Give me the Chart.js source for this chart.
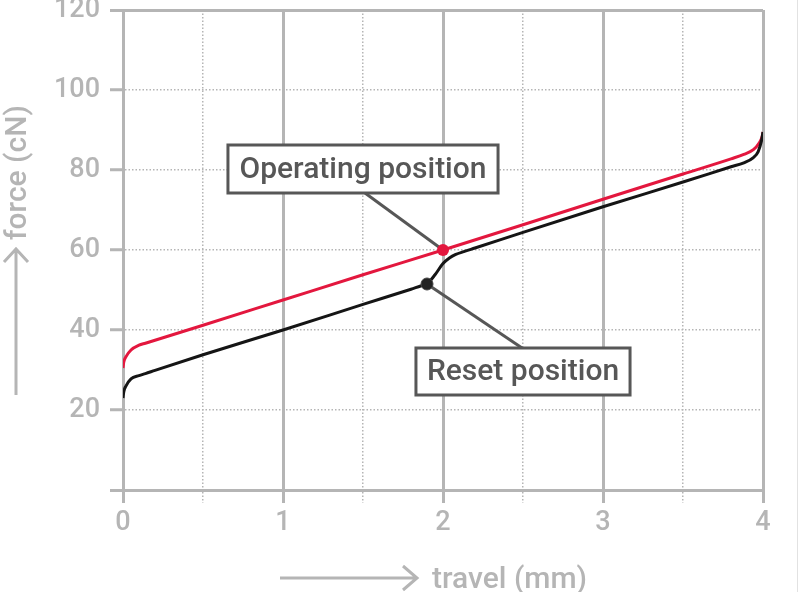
<!DOCTYPE html>
<html>
<head>
<meta charset="utf-8">
<script src="https://cdn.jsdelivr.net/npm/chart.js@4.4.1/dist/chart.umd.min.js"></script>
<style>
  html, body { margin: 0; padding: 0; background: #fff; }
  #wrap { width: 800px; height: 592px; position: relative; }
</style>
</head>
<body>
<div id="wrap"><canvas id="grafico"></canvas></div>
<script>
// travel (mm) / force (cN)
const travelOperating = [0, 0.005, 0.02, 0.05, 0.1, 0.14, 0.2, 0.5, 1.0, 1.5, 2.0, 2.5, 3.0, 3.5, 3.8, 3.88, 3.94, 3.975, 3.995, 4.0];
const forceOperating  = [30.5, 32.0, 33.4, 35.0, 36.2, 36.7, 37.45, 41.2, 47.5, 53.8, 60.0, 66.3, 72.7, 79.0, 82.8, 83.9, 85.1, 86.7, 88.4, 89.5];

const travelReset = [0, 0.005, 0.02, 0.05, 0.1, 0.14, 0.2, 0.5, 1.0, 1.5, 1.8, 1.86, 1.9, 1.95, 2.0, 2.04, 2.08, 2.13, 2.2, 2.5, 3.0, 3.5, 3.8, 3.88, 3.94, 3.97, 3.99, 4.0];
const forceReset  = [23.0, 24.6, 26.1, 27.8, 28.6, 29.1, 29.9, 33.8, 40.0, 46.4, 50.2, 51.0, 51.5, 53.8, 56.6, 58.0, 58.9, 59.6, 60.5, 64.4, 70.8, 77.0, 80.8, 81.8, 83.1, 84.6, 87.2, 89.5];

const operatingPoint = [2.0, 60.0];
const resetPoint = [1.9, 51.5];

const yTicks = [0, 20, 40, 60, 80, 100, 120];
const xTicks = [0, 1, 2, 3, 4];

// callouts: box corners in data units (left, top, right, bottom) + where the leader starts
const callouts = [
    { text: 'Operating position', box: [0.656, 86.25, 2.344, 74.25], from: [1.5125, 74.25], to: operatingPoint },
    { text: 'Reset position', box: [1.831, 35.5, 3.169, 23.75], from: [2.494, 35.5], to: resetPoint }
];

const gris = '#b5b5b5';
const rojo = '#e3173e';
const negro = '#151515';
const oscuro = '#575757';
const fuente = 'Roboto, "Liberation Sans", sans-serif';

const toXY = (xs, ys) => xs.map((x, i) => ({ x: x, y: ys[i] }));

// titles with arrows + callout boxes
const extras = {
    id: 'extras',
    beforeDatasetsDraw(chart) {
        const ctx = chart.ctx, sx = chart.scales.x, sy = chart.scales.y;
        ctx.save();
        ctx.strokeStyle = oscuro;
        ctx.lineWidth = 3;
        callouts.forEach(c => {
            ctx.beginPath();
            ctx.moveTo(sx.getPixelForValue(c.from[0]), sy.getPixelForValue(c.from[1]));
            ctx.lineTo(sx.getPixelForValue(c.to[0]), sy.getPixelForValue(c.to[1]));
            ctx.stroke();
        });
        ctx.restore();
    },
    afterDraw(chart) {
        const ctx = chart.ctx, sx = chart.scales.x, sy = chart.scales.y;
        ctx.save();
        // callout boxes
        callouts.forEach(c => {
            const l = sx.getPixelForValue(c.box[0]), t = sy.getPixelForValue(c.box[1]);
            const r = sx.getPixelForValue(c.box[2]), b = sy.getPixelForValue(c.box[3]);
            ctx.fillStyle = '#fff';
            ctx.fillRect(l, t, r - l, b - t);
            ctx.strokeStyle = oscuro;
            ctx.lineWidth = 3;
            ctx.strokeRect(l, t, r - l, b - t);
            ctx.fillStyle = oscuro;
            ctx.font = '500 30px ' + fuente;
            ctx.textAlign = 'center';
            ctx.textBaseline = 'middle';
            ctx.fillText(c.text, (l + r) / 2, (t + b) / 2 + 1);
        });

        // axis titles with arrows
        ctx.strokeStyle = gris;
        ctx.fillStyle = gris;
        ctx.lineWidth = 3;
        ctx.font = '500 30px ' + fuente;

        // x
        ctx.beginPath();
        ctx.moveTo(280, 578); ctx.lineTo(417, 578);
        ctx.moveTo(403, 566); ctx.lineTo(417, 578); ctx.lineTo(403, 590);
        ctx.stroke();
        ctx.textAlign = 'left';
        ctx.textBaseline = 'alphabetic';
        ctx.fillText('travel (mm)', 432, 588);

        // y
        ctx.beginPath();
        ctx.moveTo(16, 395); ctx.lineTo(16, 249);
        ctx.moveTo(4, 262); ctx.lineTo(16, 249); ctx.lineTo(28, 262);
        ctx.stroke();
        ctx.translate(26, 240);
        ctx.rotate(-Math.PI / 2);
        ctx.fillText('force (cN)', 0, 0);
        ctx.restore();

        // thin frame line on the right
        ctx.save();
        ctx.strokeStyle = '#e2e2e2';
        ctx.lineWidth = 1;
        ctx.beginPath();
        ctx.moveTo(797.5, 0); ctx.lineTo(797.5, 592);
        ctx.stroke();
        ctx.restore();
    }
};

const esSolido = (ctx, valores) => !ctx.tick || valores.includes(ctx.tick.value);
const dash = (ctx, valores) => esSolido(ctx, valores) ? [] : [1.5, 2];
const ancho = (ctx, valores) => esSolido(ctx, valores) ? 3 : 1.5;

new Chart(document.getElementById('grafico').getContext('2d'), {
    type: 'line',
    data: {
        datasets: [
            {
                data: toXY(travelReset, forceReset),
                borderColor: negro, borderWidth: 3,
                pointRadius: 0, cubicInterpolationMode: 'monotone', order: 1
            },
            {
                data: toXY(travelOperating, forceOperating),
                borderColor: rojo, borderWidth: 3,
                pointRadius: 0, cubicInterpolationMode: 'monotone', order: 2
            },
            {
                data: [{ x: operatingPoint[0], y: operatingPoint[1] }],
                showLine: false, pointRadius: 6, pointBackgroundColor: rojo,
                pointBorderColor: rojo, pointBorderWidth: 0, order: 0
            },
            {
                data: [{ x: resetPoint[0], y: resetPoint[1] }],
                showLine: false, pointRadius: 6, pointBackgroundColor: '#222',
                pointBorderColor: '#444', pointBorderWidth: 1, order: 0
            }
        ]
    },
    options: {
        responsive: true,
        maintainAspectRatio: false,
        animation: false,
        events: [],
        layout: { padding: { top: 10, right: 37, left: 0, bottom: 0 } },
        plugins: { legend: { display: false }, tooltip: { enabled: false }, title: { display: false } },
        scales: {
            x: {
                type: 'linear', min: 0, max: 4,
                afterFit(scale) { scale.height = 102; scale.paddingLeft = 0; scale.paddingRight = 0; },
                afterBuildTicks(scale) {
                    const t = [];
                    for (let v = 0; v <= 4; v += 0.5) t.push({ value: v });
                    scale.ticks = t;
                },
                ticks: {
                    autoSkip: false, maxRotation: 0, padding: 4, color: gris,
                    font: { family: fuente, size: 27, weight: '500' },
                    callback: v => xTicks.includes(v) ? String(v) : ''
                },
                grid: {
                    color: gris, tickColor: gris, tickLength: 13,
                    lineWidth: ctx => ancho(ctx, xTicks),
                    tickWidth: ctx => ancho(ctx, xTicks),
                    tickBorderDash: ctx => dash(ctx, xTicks)
                },
                border: { display: true, color: gris, width: 3, dash: ctx => dash(ctx, xTicks) }
            },
            y: {
                type: 'linear', min: 0, max: 120,
                afterFit(scale) { scale.width = 123; scale.paddingTop = 0; scale.paddingBottom = 0; },
                afterBuildTicks(scale) { scale.ticks = yTicks.map(v => ({ value: v })); },
                ticks: {
                    autoSkip: false, padding: 10, color: gris,
                    font: { family: fuente, size: 27, weight: '500' },
                    callback: v => v === 0 ? '' : String(v)
                },
                grid: {
                    color: gris, tickColor: gris, tickLength: 13, tickWidth: 3,
                    lineWidth: ctx => ancho(ctx, [0, 120])
                },
                border: { display: true, color: gris, width: 3, dash: ctx => dash(ctx, [0, 120]) }
            }
        }
    },
    plugins: [extras]
});
</script>
</body>
</html>
